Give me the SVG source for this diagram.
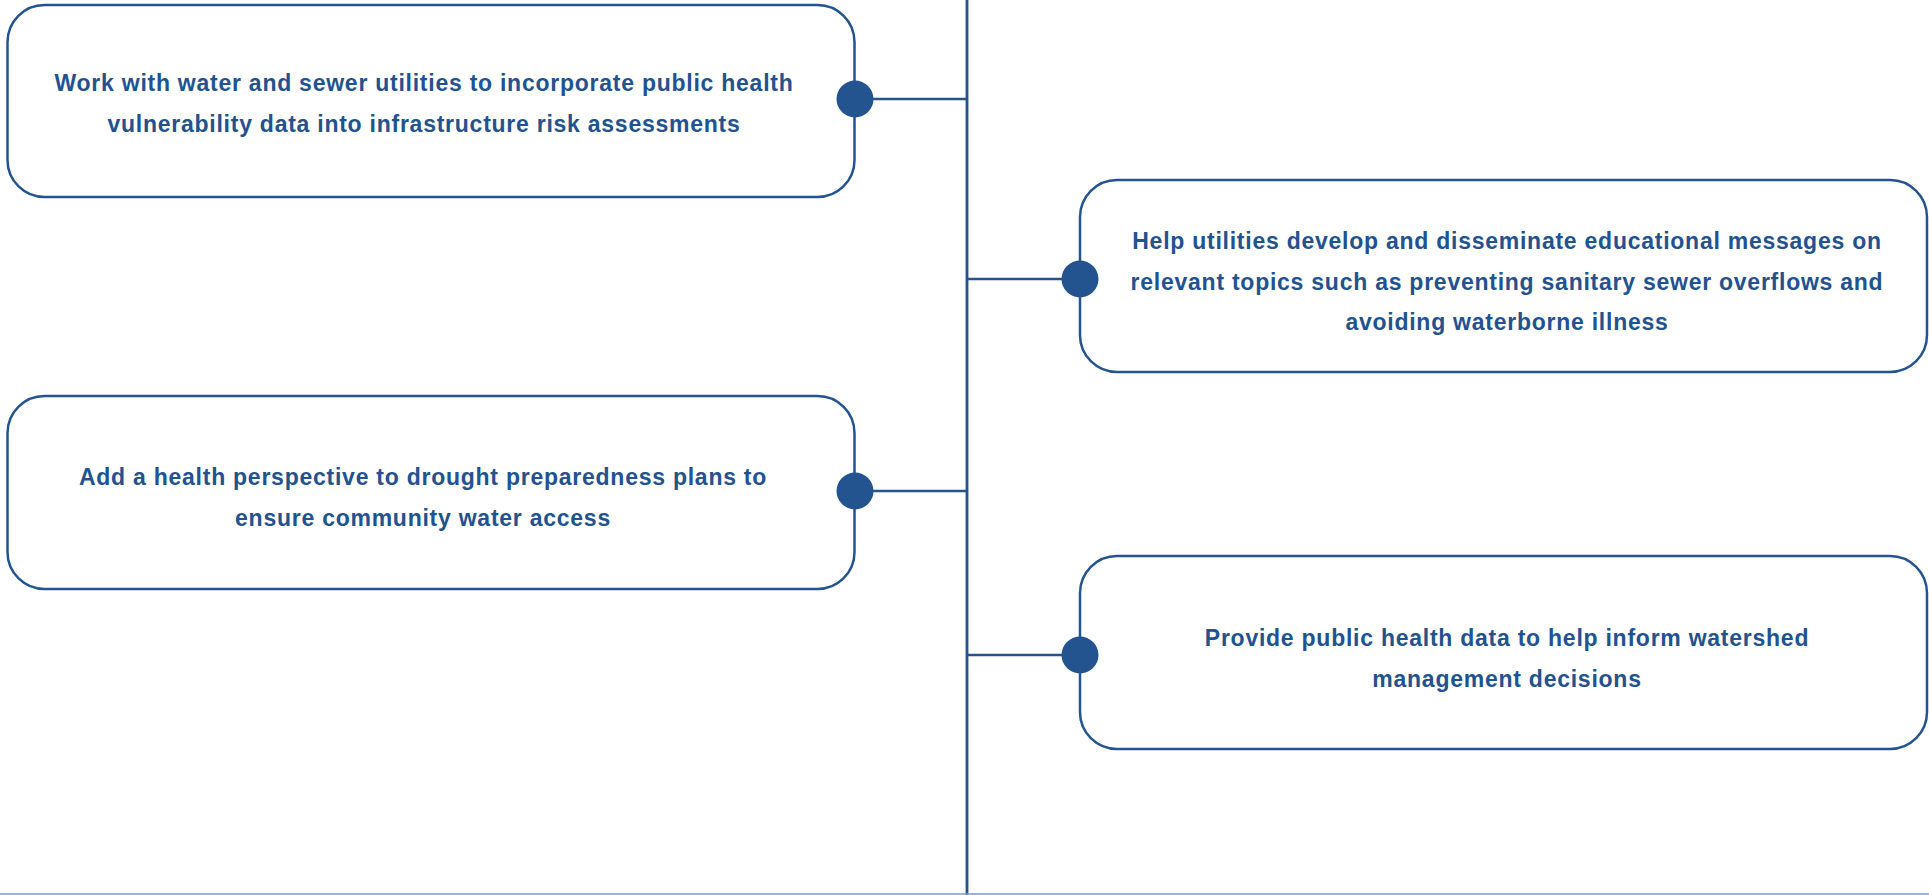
<svg xmlns="http://www.w3.org/2000/svg" width="1929" height="895" viewBox="0 0 1929 895">
<style>
.box{fill:#ffffff;stroke:#24548f;stroke-width:2.5}
.dot{fill:#23548f}
.conn{stroke:#24548f;stroke-width:2.5;fill:none}
.t{font-family:"Liberation Sans",Arial,sans-serif;font-weight:700;font-size:23px;letter-spacing:0.75px;fill:#22528f;text-anchor:middle}
</style>
<rect width="1929" height="895" fill="#ffffff"/>
<g id="connectors">
<line class="conn" x1="967" y1="0" x2="967" y2="895" style="stroke-width:2.8"/>
<line class="conn" x1="855" y1="99" x2="967" y2="99"/>
<line class="conn" x1="967" y1="279" x2="1080" y2="279"/>
<line class="conn" x1="855" y1="491" x2="967" y2="491"/>
<line class="conn" x1="967" y1="655" x2="1080" y2="655"/>
<line x1="0" y1="894" x2="1929" y2="894" stroke="#7a9cc8" stroke-width="1.5"/>
</g>
<g id="node1">
<rect class="box" x="7.5" y="5" width="847" height="192" rx="37"/>
<text class="t" x="424" y="91">Work with water and sewer utilities to incorporate public health</text>
<text class="t" x="424" y="131.5">vulnerability data into infrastructure risk assessments</text>
<circle class="dot" cx="855" cy="99" r="18.5"/>
</g>
<g id="node2">
<rect class="box" x="1080" y="180" width="847" height="192" rx="37"/>
<text class="t" x="1507" y="249">Help utilities develop and disseminate educational messages on</text>
<text class="t" x="1507" y="289.5">relevant topics such as preventing sanitary sewer overflows and</text>
<text class="t" x="1507" y="330">avoiding waterborne illness</text>
<circle class="dot" cx="1080" cy="279" r="18.5"/>
</g>
<g id="node3">
<rect class="box" x="7.5" y="396" width="847" height="193" rx="37"/>
<text class="t" x="423" y="485">Add a health perspective to drought preparedness plans to</text>
<text class="t" x="423" y="525.5">ensure community water access</text>
<circle class="dot" cx="855" cy="491" r="18.5"/>
</g>
<g id="node4">
<rect class="box" x="1080" y="556" width="847" height="193" rx="37"/>
<text class="t" x="1507" y="646">Provide public health data to help inform watershed</text>
<text class="t" x="1507" y="686.5">management decisions</text>
<circle class="dot" cx="1080" cy="655" r="18.5"/>
</g>
</svg>
